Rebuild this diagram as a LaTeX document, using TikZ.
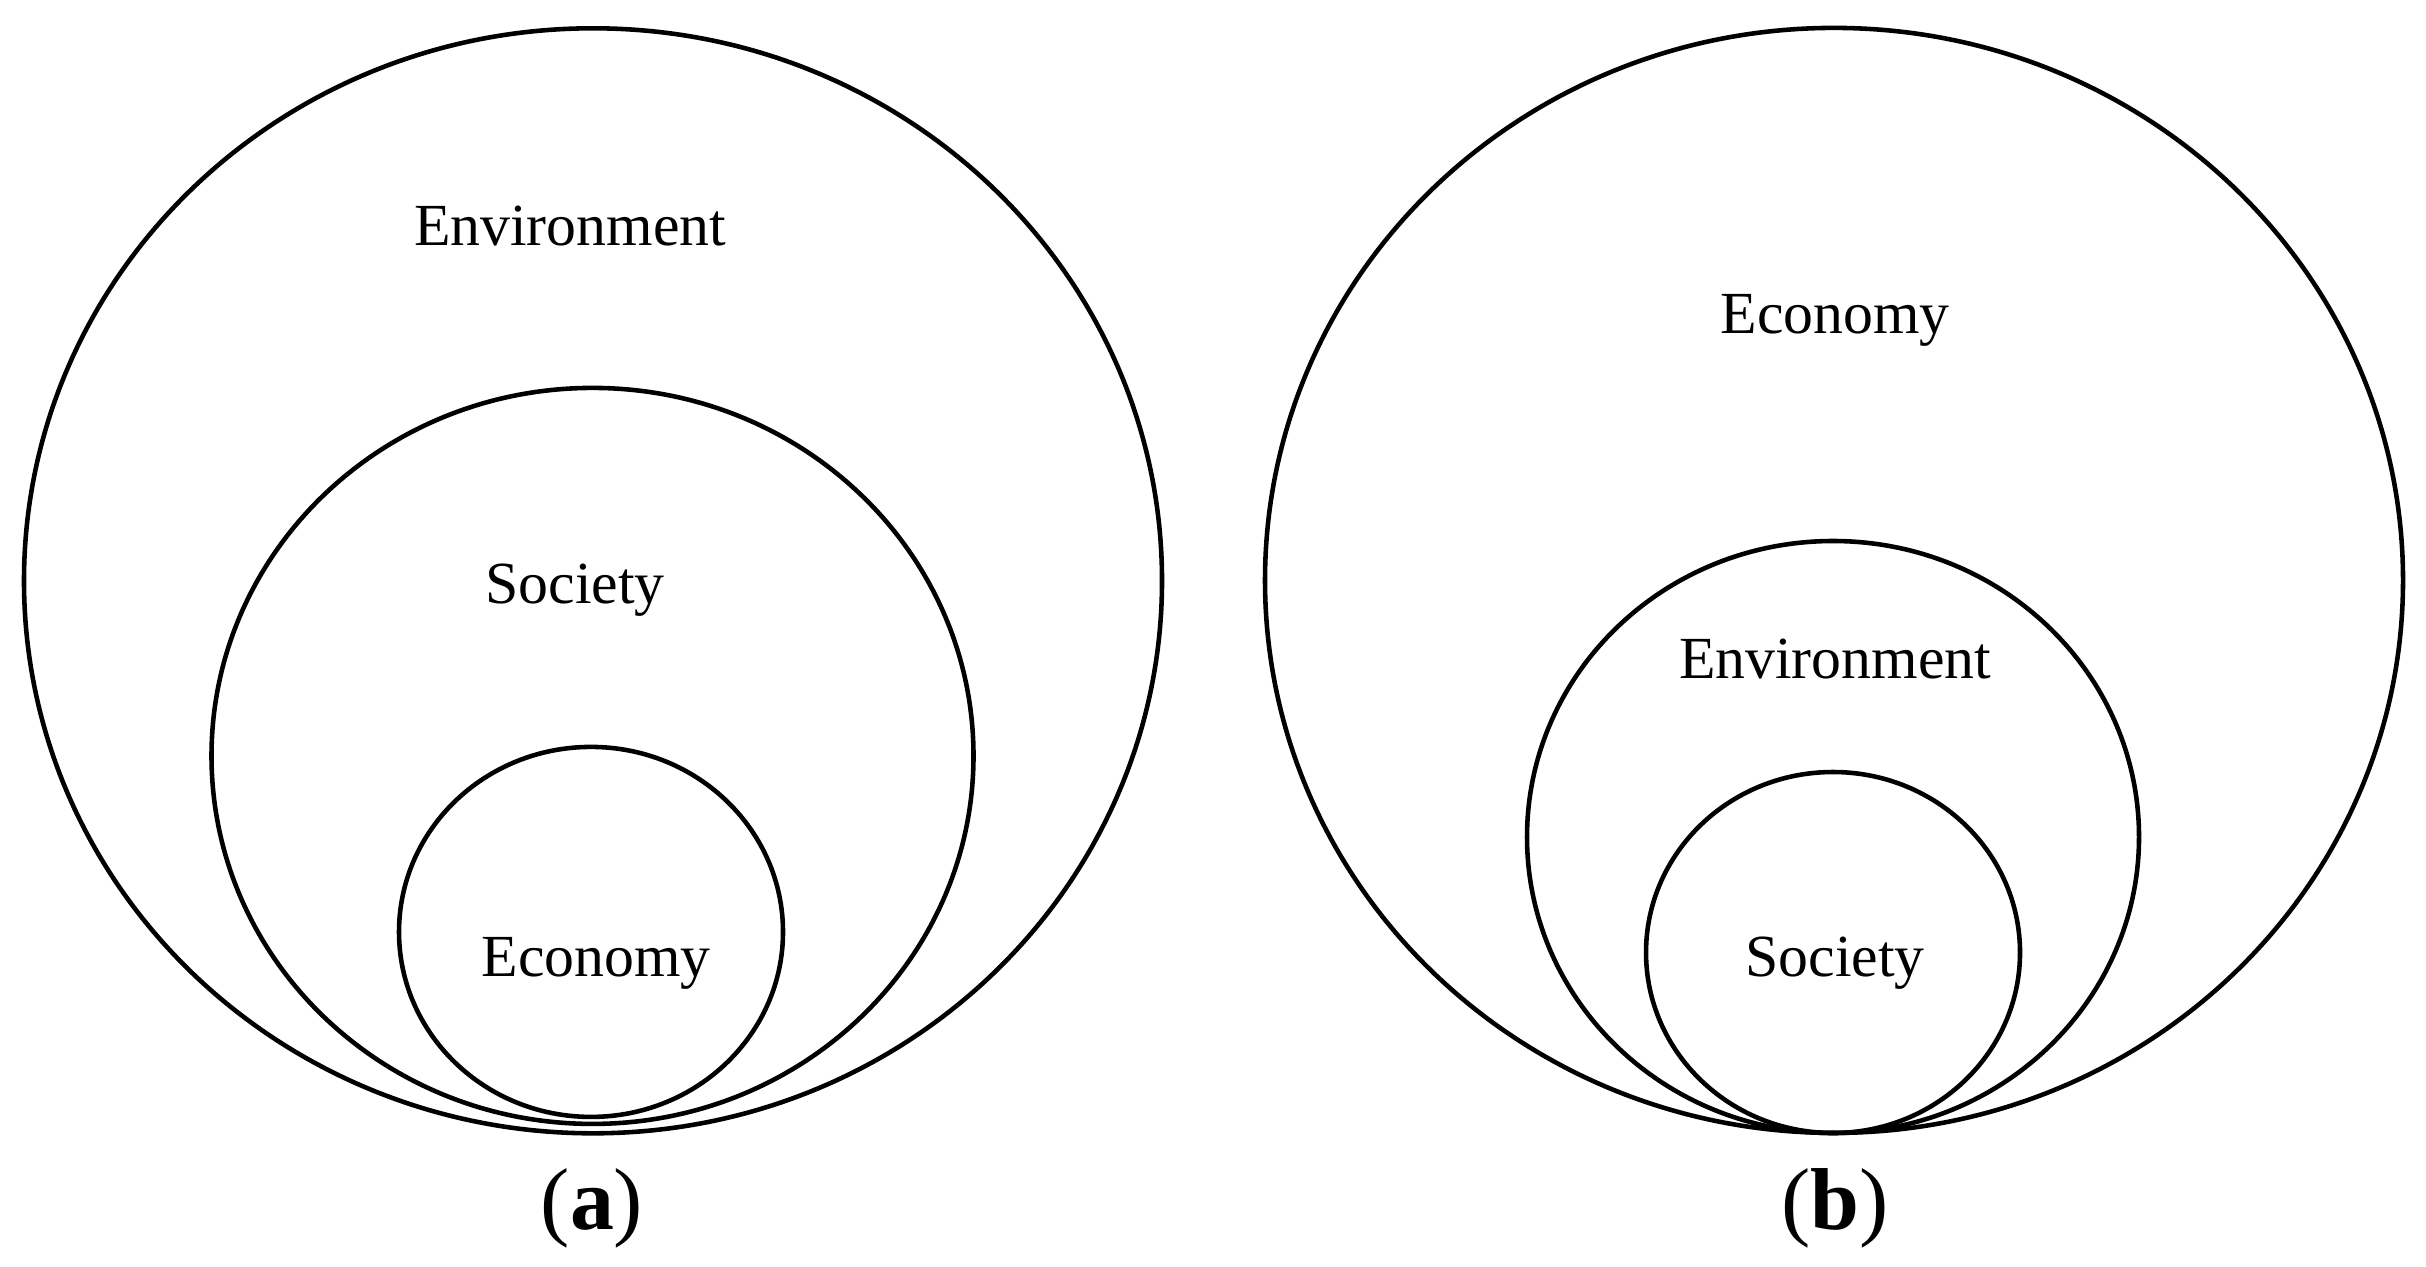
\documentclass[tikz,border=0pt]{standalone}
\usepackage{fontspec}
\setmainfont{Liberation Serif}

\begin{document}
\begin{tikzpicture}[ring/.style={line width=1.3pt},
  lbl/.style={anchor=base,inner sep=0pt,font=\fontsize{17}{20}\selectfont},
  panel/.style={anchor=base,inner sep=0pt,font=\fontsize{25}{30}\selectfont}]
\useasboundingbox (0,0) rectangle (24.26,12.66);

\coordinate (a-1) at (5.93,6.852);
\coordinate (a-2) at (5.925,5.101);
\coordinate (a-3) at (5.91,3.341);
\coordinate (b-1) at (18.34,6.856);
\coordinate (b-2) at (18.33,4.29);
\coordinate (b-3) at (18.33,3.135);

\draw[ring] (a-1) ellipse [x radius=5.69, y radius=5.525];
\draw[ring] (a-2) ellipse [x radius=3.81, y radius=3.68];
\draw[ring] (a-3) ellipse [x radius=1.92, y radius=1.85];
\draw[ring] (b-1) ellipse [x radius=5.69, y radius=5.525];
\draw[ring] (b-2) ellipse [x radius=3.06, y radius=2.96];
\draw[ring] (b-3) ellipse [x radius=1.87, y radius=1.805];

\node[lbl] (env-a) at (5.70,10.205) {Environment};
\node[lbl] (soc-a) at (5.75,6.624) {Society};
\node[lbl] (eco-a) at (5.96,2.90) {Economy};
\node[panel] (cap-a) at (5.92,0.37) {(\textbf{a})};

\node[lbl] (eco-b) at (18.35,9.33) {Economy};
\node[lbl] (env-b) at (18.35,5.88) {Environment};
\node[lbl] (soc-b) at (18.35,2.90) {Society};
\node[panel] (cap-b) at (18.35,0.37) {(\textbf{b})};
\end{tikzpicture}
\end{document}
